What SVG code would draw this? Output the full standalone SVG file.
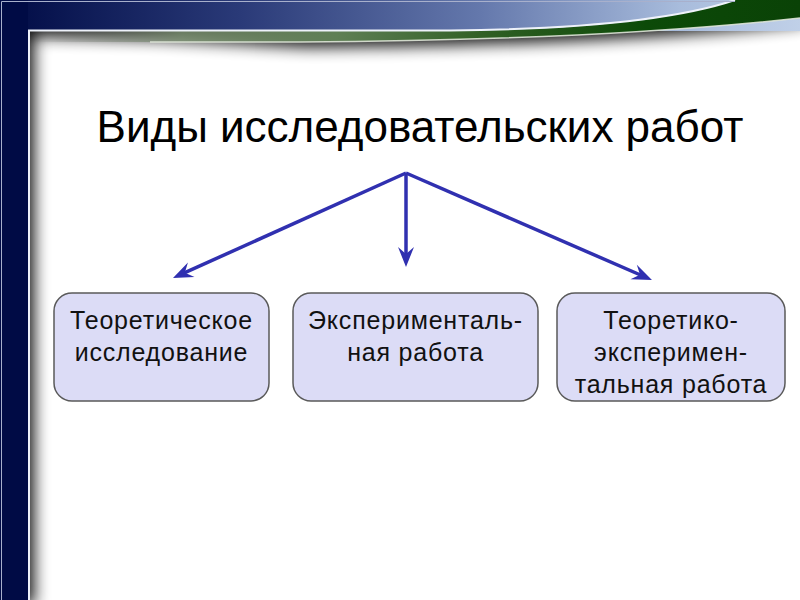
<svg xmlns="http://www.w3.org/2000/svg" width="800" height="600" viewBox="0 0 800 600">
<style>
.title{font-family:"Liberation Sans",Arial,sans-serif;font-size:44px;fill:#000;text-anchor:middle}
.lbl{font-family:"Liberation Sans",Arial,sans-serif;font-size:25px;letter-spacing:0.8px;fill:#111;text-anchor:middle}
.box{fill:#dcdcf6;stroke:#5a5a5a;stroke-width:1.5}
.arr{stroke:#3030b0;stroke-width:3.5;fill:none;marker-end:url(#ah)}
</style>
<defs>
<linearGradient id="topg" x1="0" y1="0" x2="800" y2="0" gradientUnits="userSpaceOnUse">
<stop offset="0" stop-color="#000b45"/>
<stop offset="0.3" stop-color="#2a3a78"/>
<stop offset="0.6" stop-color="#6478ac"/>
<stop offset="0.85" stop-color="#a8bcdc"/>
<stop offset="1" stop-color="#c0d0e8"/>
</linearGradient>
<linearGradient id="greeng" x1="28" y1="0" x2="800" y2="0" gradientUnits="userSpaceOnUse">
<stop offset="0" stop-color="#6a6a6a" stop-opacity="0"/>
<stop offset="0.2" stop-color="#7a9070" stop-opacity="0.8"/>
<stop offset="0.4" stop-color="#5f7f55"/>
<stop offset="0.6" stop-color="#2e5e22"/>
<stop offset="0.8" stop-color="#0c4a08"/>
<stop offset="1" stop-color="#0a4206"/>
</linearGradient>
<filter id="sh" x="-10%" y="-10%" width="130%" height="130%"><feGaussianBlur stdDeviation="8"/></filter>
<marker id="ah" viewBox="-22 -10 24 20" refX="-10" refY="0" markerWidth="24" markerHeight="20" markerUnits="userSpaceOnUse" orient="auto">
<path d="M0 0 L-20 -8 L-13 0 L-20 8 Z" fill="#3030b0"/>
</marker>
</defs>
<rect width="800" height="600" fill="#fff"/>
<g id="frame">
<path d="M0 0 H800 V18 Q600 40 300 42 L150 34 L28 31 V600 H0 Z" fill="#000" opacity="0.95" filter="url(#sh)" transform="translate(6,5)"/>
<rect x="0" y="0" width="800" height="31" fill="url(#topg)"/>
<rect x="0" y="0" width="28" height="600" fill="#000b45"/>
<path d="M28 31 L450 31 Q650 29 735 0 L800 0 L800 18 Q600 40 300 42 L28 42 Z" fill="url(#greeng)"/>
<path d="M150 42 L300 42 Q600 40 800 18" fill="none" stroke="#dfe6d8" stroke-width="1.5" opacity="0.9"/>
<path d="M29 600 V30.5 H450 Q650 28.5 735 0" fill="none" stroke="#eef2fa" stroke-width="2"/>
<path d="M1.5 600 V1.5 H735" fill="none" stroke="#a8b0cc" stroke-width="1"/>
</g>
<text class="title" x="420" y="142">Виды исследовательских работ</text>
<g id="connectors">
<line class="arr" x1="406" y1="173" x2="182.1" y2="273.9"/>
<line class="arr" x1="406" y1="173" x2="406" y2="257"/>
<line class="arr" x1="406" y1="173" x2="642.8" y2="276"/>
</g>
<g id="node1">
<rect class="box" x="54" y="293" width="215" height="108" rx="18"/>
<text class="lbl" x="161.5" y="329">Теоретическое</text>
<text class="lbl" x="161.5" y="361">исследование</text>
</g>
<g id="node2">
<rect class="box" x="293" y="293" width="245" height="108" rx="18"/>
<text class="lbl" x="415.5" y="329">Эксперименталь-</text>
<text class="lbl" x="415.5" y="361">ная работа</text>
</g>
<g id="node3">
<rect class="box" x="557" y="293" width="228" height="108" rx="18"/>
<text class="lbl" x="671" y="329">Теоретико-</text>
<text class="lbl" x="671" y="361">эксперимен-</text>
<text class="lbl" x="671" y="393">тальная работа</text>
</g>
</svg>
